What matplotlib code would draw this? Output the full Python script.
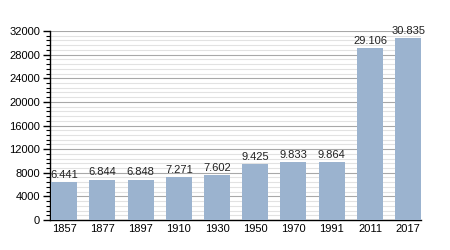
import numpy as np
import matplotlib.pyplot as plt
from matplotlib.ticker import MultipleLocator

years = ["1857", "1877", "1897", "1910", "1930", "1950", "1970", "1991", "2011", "2017"]
population = [6441, 6844, 6848, 7271, 7602, 9425, 9833, 9864, 29106, 30835]
labels = ["6.441", "6.844", "6.848", "7.271", "7.602", "9.425", "9.833", "9.864", "29.106", "30.835"]

plt.rcParams['font.family'] = ['Liberation Sans', 'DejaVu Sans']

fig = plt.figure(figsize=(4.5, 2.5), dpi=100)
ax = fig.add_axes([0.111, 0.12, 0.825, 0.756])

x = np.arange(len(years))
ax.bar(x, population, width=0.68, color="#9bb3cf", zorder=3)
for xi, v, lab in zip(x, population, labels):
    ax.annotate(lab, (xi, v), xytext=(0, 1.5), textcoords="offset points",
                ha="center", va="bottom", fontsize=8, color="#222222", zorder=4)

ax.set_xlim(-0.37, 9.34)
ax.set_ylim(0, 32000)
ax.set_xticks(x)
ax.set_xticklabels(years)
ax.yaxis.set_major_locator(MultipleLocator(4000))
ax.yaxis.set_minor_locator(MultipleLocator(800))
ax.grid(True, axis="y", which="major", color="#a8a8a8", linewidth=0.8, zorder=1)
ax.grid(True, axis="y", which="minor", color="#e2e2e2", linewidth=0.8, zorder=0)

for s in ["top", "right"]:
    ax.spines[s].set_visible(False)
ax.spines["left"].set_linewidth(1.0)
ax.spines["bottom"].set_linewidth(1.0)
ax.tick_params(axis="x", length=0, labelsize=8, pad=3)
ax.tick_params(axis="y", which="major", length=5, width=1, labelsize=8, pad=2)
ax.tick_params(axis="y", which="minor", length=3, width=0.8)

fig.savefig("out.png", dpi=100)
